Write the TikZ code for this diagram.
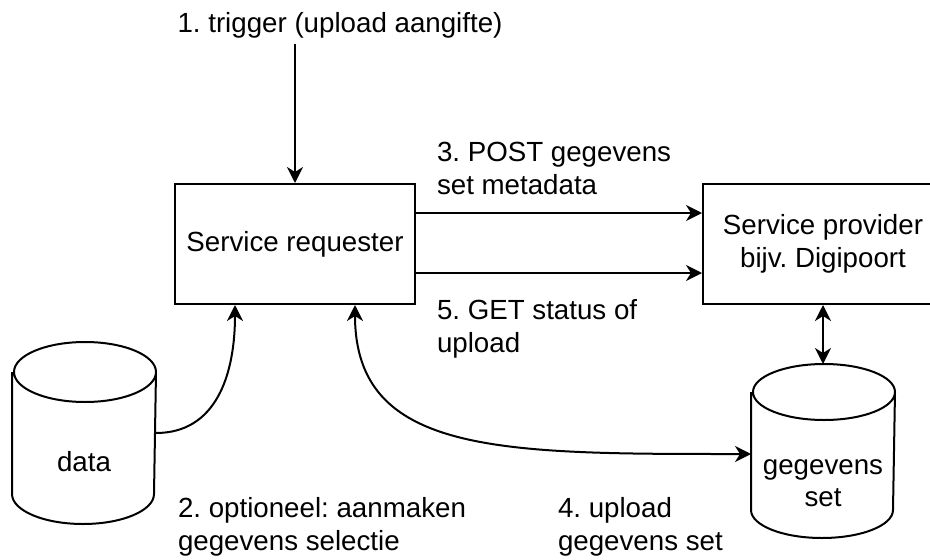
\documentclass[tikz,border=0pt]{standalone}
\usepackage{fontspec}
\setmainfont{Liberation Sans}
\usetikzlibrary{arrows.meta}
\frenchspacing

\begin{document}
\begin{tikzpicture}[x=1pt, y=-1pt, line width=2pt,
		>={Stealth[length=16pt, width=16pt, inset=5pt]},
		font=\fontsize{27.7pt}{32.5pt}\selectfont,
		box/.style={draw, minimum width=240pt, minimum height=120pt, align=center, inner sep=0pt},
		store/.style={minimum width=142pt, inner sep=0pt},
		lbl/.style={anchor=base west, align=left, inner sep=0pt}]
			\useasboundingbox (0, 0) rectangle (930, 560);

			\draw (295, 244) 	node[box] 					(req) 		{Service requester};
			\draw (823, 244) 	node[box] 					(prov) 		{Service provider\\bijv. Digipoort};
			\draw (84, 433) 	node[store, minimum height=180pt] 	(data) 		{};
			\draw (823, 451) 	node[store, minimum height=172pt] 	(gset) 		{};
			\draw (84, 462) 	node[align=center, inner sep=0pt] 	(data_t) 	{data};
			\draw (823, 483) 	node[align=center, inner sep=0pt] 	(gset_t) 	{gegevens\\set};
			\coordinate (trig) at (295, 44);

			% cylinders
			\draw ([yshift=-30pt]data.north west) -- ([yshift=30pt]data.south west)
				arc[start angle=180, end angle=360, x radius=71pt, y radius=30pt]
				-- ([yshift=-30pt]data.north east)
				arc[start angle=0, end angle=360, x radius=71pt, y radius=30pt];
			\draw ([yshift=-28pt]gset.north west) -- ([yshift=28pt]gset.south west)
				arc[start angle=180, end angle=360, x radius=71pt, y radius=28pt]
				-- ([yshift=-28pt]gset.north east)
				arc[start angle=0, end angle=360, x radius=71pt, y radius=28pt];

			\draw (340, 32) 	node[anchor=base, inner sep=0pt] 	(l1) 	{1. trigger (upload aangifte)};
			\draw (177, 550) 	node[lbl] 	(l2) 	{2. optioneel: aanmaken\\gegevens selectie};
			\draw (436, 194) 	node[lbl] 	(l3) 	{3. POST gegevens\\set metadata};
			\draw (557, 550) 	node[lbl] 	(l4) 	{4. upload\\gegevens set};
			\draw (436, 352) 	node[lbl] 	(l5) 	{5. GET status of\\upload};

			\draw[->] (trig) -- (req);
			\draw[->] ([yshift=31pt]req.east) -- ([yshift=31pt]req.east -| prov.west);
			\draw[->] ([yshift=-29pt]req.east) -- ([yshift=-29pt]req.east -| prov.west);
			\draw[<->] (prov) -- (gset);
			\draw[->] (data.east) .. controls +(60, 0) and +(0, 70) .. ([xshift=-60pt]req.south);
			\draw[<->] ([xshift=60pt]req.south) .. controls +(0, 150) and +(-250, 0) .. ([yshift=-3pt]gset.west);
		\end{tikzpicture}
\end{document}
